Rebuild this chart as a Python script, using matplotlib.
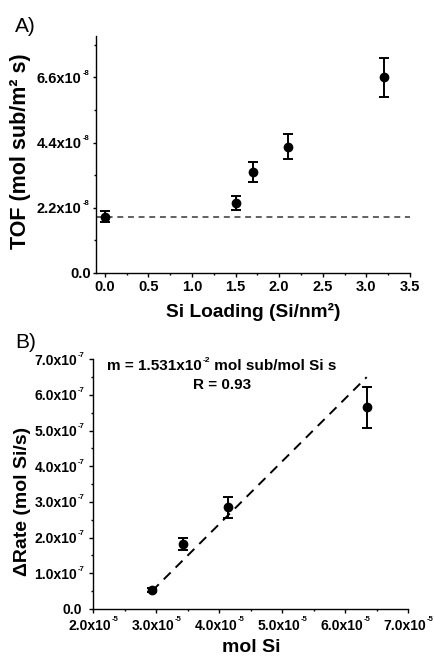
import matplotlib
matplotlib.use("Agg")
import matplotlib.pyplot as plt
from matplotlib.ticker import MultipleLocator
from matplotlib.transforms import ScaledTranslation

plt.rcParams['font.family'] = ['Liberation Sans', 'DejaVu Sans']

# ---- Panel A data ----
loading = [0.0, 1.5, 1.7, 2.1, 3.2]
tof = [1.895e-8, 2.35e-8, 3.41e-8, 4.26e-8, 6.60e-8]
tof_err = [0.19e-8, 0.24e-8, 0.33e-8, 0.43e-8, 0.66e-8]
baseline_tof = 1.895e-8
a_yticks = [0.0, 2.2e-8, 4.4e-8, 6.6e-8]
a_ytick_base = ['0.0', '2.2x10', '4.4x10', '6.6x10']
a_ytick_exp = ['', '-8', '-8', '-8']
a_xticks = [0.0, 0.5, 1.0, 1.5, 2.0, 2.5, 3.0, 3.5]
a_xticklabels = ['0.0', '0.5', '1.0', '1.5', '2.0', '2.5', '3.0', '3.5']

# ---- Panel B data ----
mol_si = [2.927e-5, 3.42e-5, 4.143e-5, 6.34e-5]
d_rate = [0.534e-7, 1.82e-7, 2.85e-7, 5.65e-7]
d_rate_err = [0.05e-7, 0.17e-7, 0.29e-7, 0.57e-7]
fit_x = [2.93e-5, 6.34e-5]
fit_y = [0.50e-7, 6.50e-7]
b_yticks = [0, 1e-7, 2e-7, 3e-7, 4e-7, 5e-7, 6e-7, 7e-7]
b_ytick_base = ['0.0', '1.0x10', '2.0x10', '3.0x10', '4.0x10', '5.0x10', '6.0x10', '7.0x10']
b_ytick_exp = ['', '-7', '-7', '-7', '-7', '-7', '-7', '-7']
b_xticks = [2e-5, 3e-5, 4e-5, 5e-5, 6e-5, 7e-5]
b_xtick_base = ['2.0x10', '3.0x10', '4.0x10', '5.0x10', '6.0x10', '7.0x10']
b_xtick_exp = ['-5', '-5', '-5', '-5', '-5', '-5']
fit_text_parts = ['m = 1.531x10', '-2', ' mol sub/mol Si s']
r_text = 'R = 0.93'

W, H = 435, 657
PT = 72 / 100  # points per pixel
fig = plt.figure(figsize=(W / 100, H / 100), dpi=100)


def base_style(ax, size, ticklen):
    for s in ['top', 'right']:
        ax.spines[s].set_visible(False)
    for s in ['left', 'bottom']:
        ax.spines[s].set_linewidth(1.0)
    ax.tick_params(which='major', direction='out', length=ticklen * PT, width=1.0,
                   labelsize=size)
    ax.tick_params(which='minor', direction='out', length=ticklen * 0.6 * PT, width=1.0)
    for lab in ax.get_xticklabels() + ax.get_yticklabels():
        lab.set_fontweight('bold')


def add_exponents(ax, axis, exps, pad_plain, pad_exp, exp_size, shift_px=0.0):
    ticks = (ax.yaxis if axis == 'y' else ax.xaxis).get_major_ticks()
    for tick, e in zip(ticks, exps):
        tick.set_pad((pad_exp if e else pad_plain) * PT)
        if shift_px:
            tick.label1.set_transform(tick.label1.get_transform() +
                                      ScaledTranslation(shift_px / 100, 0, fig.dpi_scale_trans))
        if e:
            ax.annotate(e, xy=(1, 1), xycoords=tick.label1, xytext=(0.4, 1.6),
                        textcoords='offset points', ha='left', va='top',
                        fontsize=exp_size, fontweight='bold', annotation_clip=False)


# Panel A
axA_w = 410 - 95.7
axA_h = 272.7 - 36
axA = fig.add_axes([95.7 / W, 1 - 272.7 / H, axA_w / W, axA_h / H])
axA.axhline(baseline_tof, color='#555555', ls=(0, (3.3, 2.6)), lw=1.3, zorder=1)
axA.errorbar(loading, tof, yerr=tof_err, fmt='o', color='black', ms=6,
             capsize=3.5, elinewidth=1.4, capthick=1.4, zorder=3)
axA.set_xlim(-0.105, 3.5)
axA.set_ylim(0, 8.0e-8)
axA.set_xticks(a_xticks)
axA.set_xticklabels(a_xticklabels)
axA.xaxis.set_minor_locator(MultipleLocator(0.25))
axA.set_yticks(a_yticks)
axA.set_yticklabels(a_ytick_base)
axA.yaxis.set_minor_locator(MultipleLocator(1.1e-8))
base_style(axA, 10.5, 3.5)
axA.tick_params(axis='x', which='major', pad=4.1 * PT)
add_exponents(axA, 'y', a_ytick_exp, 1.5, 10.5, 5.5)
axA.set_xlabel('Si Loading (Si/nm\u00b2)', fontsize=13.8, fontweight='bold')
axA.xaxis.set_label_coords(0.5, -(303 - 272.7) / axA_h)
axA.set_ylabel('TOF (mol sub/m\u00b2 s)', fontsize=15.5, fontweight='bold')
axA.yaxis.set_label_coords((31 - 95.7) / axA_w, (272.7 - 151) / axA_h)
fig.text(15 / W, 1 - 32 / H, 'A)', fontsize=15, ha='left', va='baseline')

# Panel B
axB_w = 408.3 - 93.3
axB_h = 609 - 359.3
axB = fig.add_axes([93.3 / W, 1 - 609 / H, axB_w / W, axB_h / H])
axB.plot(fit_x, fit_y, color='black', ls=(0, (5, 3.6)), lw=1.4, zorder=1)
axB.errorbar(mol_si, d_rate, yerr=d_rate_err, fmt='o', color='black', ms=6,
             capsize=3.5, elinewidth=1.4, capthick=1.4, zorder=3)
axB.set_xlim(2e-5, 7e-5)
axB.set_ylim(0, 7e-7)
axB.set_xticks(b_xticks)
axB.set_xticklabels(b_xtick_base)
axB.set_yticks(b_yticks)
axB.set_yticklabels(b_ytick_base)
axB.xaxis.set_minor_locator(MultipleLocator(0.5e-5))
axB.yaxis.set_minor_locator(MultipleLocator(0.5e-7))
base_style(axB, 10, 4)
add_exponents(axB, 'y', b_ytick_exp, 7.6, 12, 5.5)
add_exponents(axB, 'x', b_xtick_exp, 5.5, 5.5, 5.5, shift_px=-3.5)
axB.set_xlabel('mol Si', fontsize=14, fontweight='bold')
axB.xaxis.set_label_coords(0.5, -(639 - 609) / axB_h)
axB.set_ylabel('\u0394Rate (mol Si/s)', fontsize=14, fontweight='bold')
axB.yaxis.set_label_coords((31 - 93.3) / axB_w, (609 - 501) / axB_h)

# fit annotation: "m = 1.531x10^-2 mol sub/mol Si s"
t1 = fig.text(107 / W, 1 - 366 / H, fit_text_parts[0], fontsize=11,
              fontweight='bold', ha='left', va='center')
t2 = fig.text(0, 0, '', alpha=0)
t2 = axB.annotate(fit_text_parts[1], xy=(1, 1), xycoords=t1, xytext=(0.4, 1.6),
                  textcoords='offset points', ha='left', va='top',
                  fontsize=6, fontweight='bold', annotation_clip=False)
axB.annotate(fit_text_parts[2], xy=(1, 0), xycoords=(t2, t1), ha='left', va='bottom',
             fontsize=11, fontweight='bold', annotation_clip=False)
fig.text(222 / W, 1 - 385 / H, r_text, fontsize=11, fontweight='bold',
         ha='center', va='center')
fig.text(15 / W, 1 - 348 / H, 'B)', fontsize=15, ha='left', va='baseline')

fig.savefig('out.png', dpi=100)
